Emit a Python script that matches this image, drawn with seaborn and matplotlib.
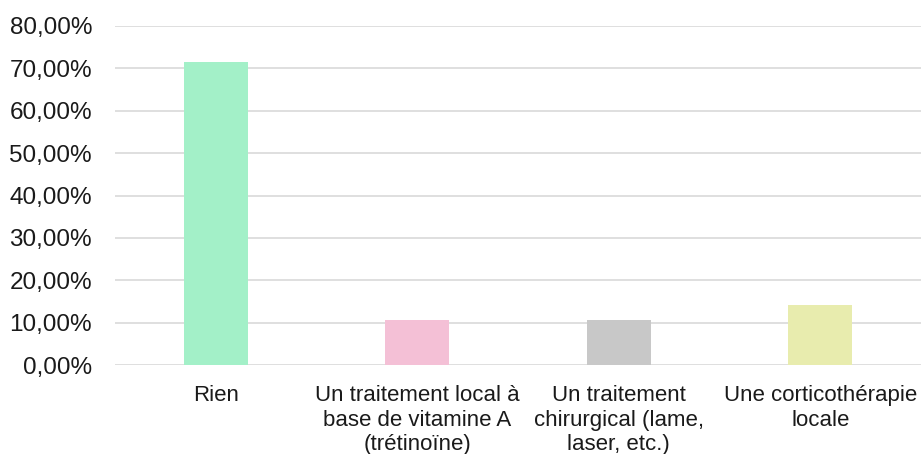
import matplotlib
matplotlib.use("Agg")
import matplotlib.pyplot as plt
import seaborn as sns
import pandas as pd
from matplotlib.ticker import FuncFormatter, MultipleLocator

categories = [
    "Rien",
    "Un traitement local à\nbase de vitamine A\n(trétinoïne)",
    "Un traitement\nchirurgical (lame,\nlaser, etc.)",
    "Une corticothérapie\nlocale",
]
values = [0.7143, 0.1071, 0.1071, 0.1429]
colors = ["#A3F0C8", "#F4C0D6", "#C8C8C8", "#E8ECAE"]

sns.set_theme(style="white")
plt.rcParams["font.family"] = ["Liberation Sans", "DejaVu Sans"]

df = pd.DataFrame({"cat": categories, "val": values})

fig = plt.figure(figsize=(9.21, 4.54), dpi=100)
ax = fig.add_axes([115 / 921, (454 - 365.3) / 454, (921 - 115) / 921, (365.3 - 25.7) / 454])

sns.barplot(data=df, x="cat", y="val", hue="cat", palette=colors, width=0.317,
            legend=False, ax=ax, saturation=1, linewidth=0, zorder=3)

ax.set_ylim(0, 0.8)
ax.set_xlim(-0.5, 3.5)
ax.yaxis.set_major_locator(MultipleLocator(0.1))
ax.yaxis.set_major_formatter(FuncFormatter(lambda v, p: f"{v*100:.2f}%".replace(".", ",")))
ax.yaxis.grid(True, color="#D9D9D9", linewidth=1.2, zorder=0)
ax.set_axisbelow(True)
for s in ax.spines.values():
    s.set_visible(False)
ax.set_xlabel("")
ax.set_ylabel("")
ax.tick_params(axis="y", length=0, pad=16.5, labelsize=17.5, labelcolor="#1a1a1a")
ax.tick_params(axis="x", length=0, pad=14.5, labelsize=16, labelcolor="#1a1a1a")
for lbl in ax.get_xticklabels():
    lbl.set_linespacing(1.2)
    lbl.set_verticalalignment("top")

fig.savefig("out.png", dpi=100)
